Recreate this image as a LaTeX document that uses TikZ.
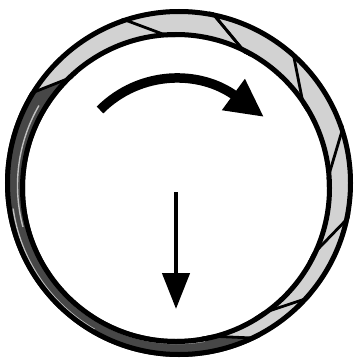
\documentclass[tikz,border=0pt]{standalone}
\usetikzlibrary{arrows.meta,calc}
\begin{document}
\begin{tikzpicture}[x=1pt,y=-1pt]

\useasboundingbox (0,0) rectangle (355,361);

% Anneau
\begin{scope}[even odd rule]
\clip
(179,183) circle (174)
(176,188) circle (151);

\fill[gray!35]
(0,0) rectangle (355,361);

\fill[black!72]
(179,183) ++(62:178)
arc (62:210:178)
-- ($(176,188)+(230:148)$)
arc (230:82:148)
-- cycle;

\draw[gray!50,line width=1.4pt]
(177.5,185.5) ++(80:158)
arc (80:130:158);
\draw[gray!50,line width=1.4pt]
(177.5,185.5) ++(120:166)
arc (120:172:166);
\draw[gray!50,line width=1.4pt]
(177.5,185.5) ++(165:160)
arc (165:210:160);

\foreach \a in {-80,-50,-20,10,40,62,210,250,280}
  \draw[line width=2.8pt]
  ($(179,183)+(\a:176)$)
  --
  ($(176,188)+(\a+20:149)$);
\end{scope}

\draw[line width=5pt]
(179,183)
circle (171.5);

\draw[line width=5pt]
(176,188)
circle (153.5);

% Rotation
\draw[line width=9.5pt,-{Triangle[length=38pt,width=36pt]}]
(100,110)
.. controls (140,70) and (200,70) .. (264,117);

% Chute
\draw[line width=4.5pt,-{Triangle[length=36pt,width=27pt]}]
(176,192)
--
(176,309);

\end{tikzpicture}
\end{document}
